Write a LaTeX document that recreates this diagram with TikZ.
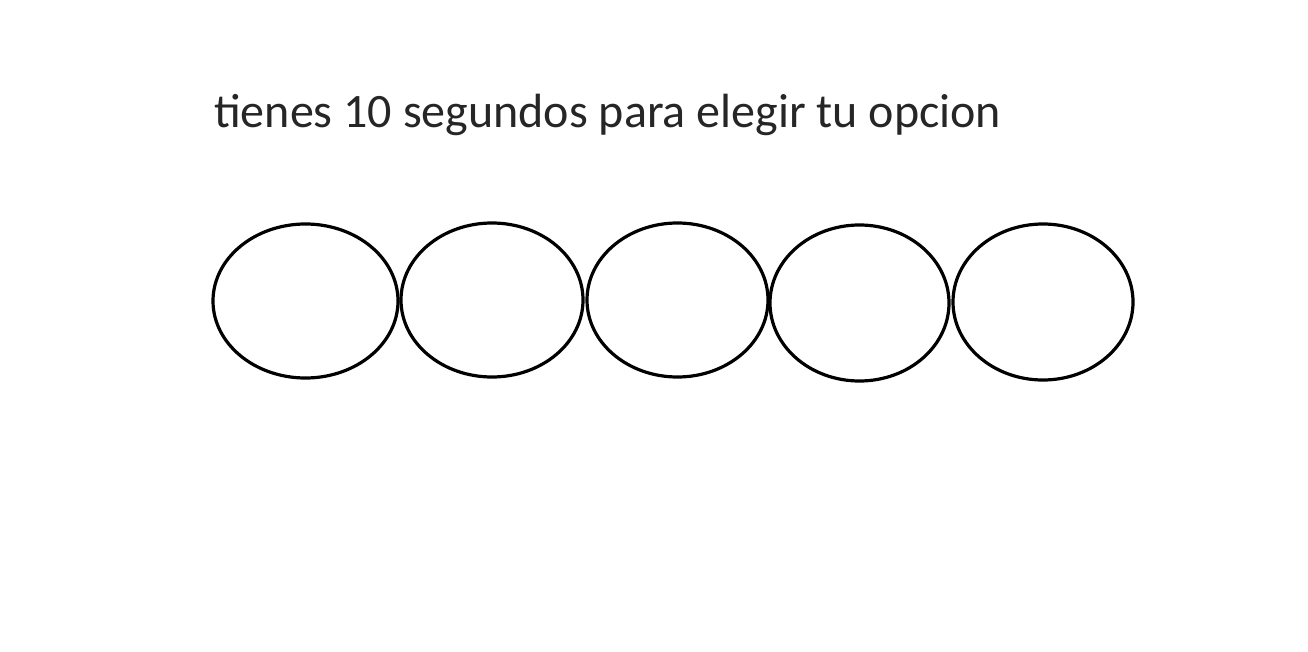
\documentclass[tikz,border=0pt]{standalone}
\usepackage{fontspec}
\setmainfont{Carlito}
\tikzset{ring/.style={draw=black,line width=3.2pt},
  title/.style={font=\fontsize{48}{58}\selectfont,text=black!85,inner sep=0pt,anchor=base west}}
\begin{document}
\begin{tikzpicture}[x=1pt,y=-1pt]
\useasboundingbox (0,0) rectangle (1308,652);
\node[title] (t) at (214,128) {tienes 10 segundos para elegir tu opcion};
\draw[ring] (305.5,301) ellipse [x radius=92.5, y radius=77];
\draw[ring] (492,300) ellipse [x radius=91, y radius=77];
\draw[ring] (677.5,300) ellipse [x radius=90.5, y radius=77];
\draw[ring] (859.5,303) ellipse [x radius=89.5, y radius=78];
\draw[ring] (1043,302) ellipse [x radius=90, y radius=78];
\end{tikzpicture}
\end{document}
